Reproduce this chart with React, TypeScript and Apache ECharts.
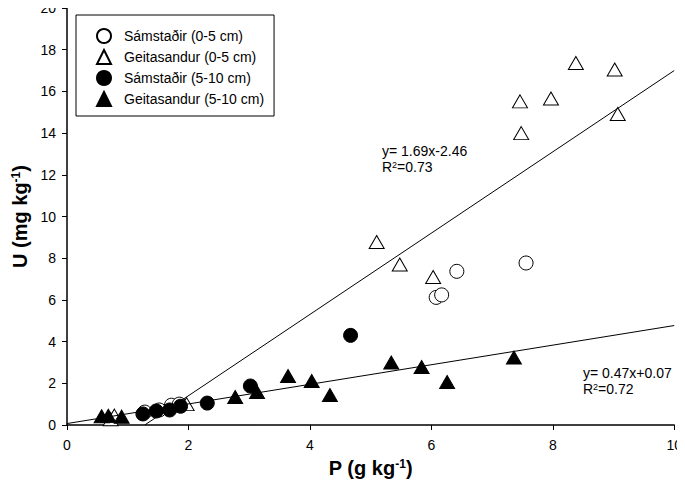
import React, { useEffect, useRef } from "react";
import * as echarts from "echarts";

const samOpen: [number, number][] = [
  [1.28, 0.62], [1.52, 0.72], [1.72, 0.95], [1.85, 1.0],
  [6.08, 6.12], [6.17, 6.24], [6.42, 7.37], [7.56, 7.77],
];
const geitOpen: [number, number][] = [
  [0.72, 0.28], [0.78, 0.45], [1.97, 1.0],
  [5.1, 8.78], [5.48, 7.7], [6.03, 7.1],
  [7.46, 15.52], [7.48, 14.0], [7.97, 15.66], [8.38, 17.36], [9.02, 17.05], [9.07, 14.92],
];
const samFilled: [number, number][] = [
  [1.25, 0.53], [1.47, 0.67], [1.69, 0.72], [1.87, 0.9], [2.31, 1.05],
  [3.02, 1.87], [4.67, 4.3],
];
const geitFilled: [number, number][] = [
  [0.57, 0.42], [0.68, 0.44], [0.9, 0.4],
  [2.77, 1.34], [3.13, 1.58], [3.64, 2.35], [4.03, 2.11], [4.33, 1.44],
  [5.34, 3.0], [5.84, 2.78], [6.26, 2.06], [7.36, 3.24],
];
const upperLine: [number, number][] = [[1.28, 0], [10, 17.0]];
const lowerLine: [number, number][] = [[0, 0.07], [10, 4.77]];

const names = [
  "Sámstaðir (0-5 cm)",
  "Geitasandur (0-5 cm)",
  "Sámstaðir (5-10 cm)",
  "Geitasandur (5-10 cm)",
];
const xTicks = { min: 0, max: 10, interval: 2 };
const yTicks = { min: 0, max: 20, interval: 2 };

const FONT = "'Liberation Sans', Arial, sans-serif";

export default function App() {
  const ref = useRef<HTMLDivElement>(null);
  useEffect(() => {
    if (!ref.current) return;
    const chart = echarts.init(ref.current, undefined, { renderer: "svg" });
    const openStyle = { color: "#fff", borderColor: "#000", borderWidth: 1, opacity: 1 };
    const fillStyle = { color: "#000", borderColor: "#000", borderWidth: 1, opacity: 1 };
    const sup = { fontSize: 12, fontWeight: "bold", verticalAlign: "top", lineHeight: 12, fontFamily: FONT, color: "#000" };
    const rsup = { fontSize: 9, verticalAlign: "top", lineHeight: 9, fontFamily: FONT };
    chart.setOption({
      animation: false,
      backgroundColor: "#fff",
      textStyle: { fontFamily: FONT },
      grid: { left: 67, right: 8, top: 8, bottom: 67, containLabel: false },
      legend: {
        orient: "vertical",
        left: 76,
        top: 15,
        borderColor: "#000",
        borderWidth: 1,
        padding: [13, 10, 9, 20],
        itemGap: 5,
        itemWidth: 14,
        itemHeight: 14,
        textStyle: { fontSize: 14, lineHeight: 14, color: "#000", fontFamily: FONT, padding: [0, 0, 0, 8] },
        data: [
          { name: names[0], icon: "circle" },
          { name: names[1], icon: "triangle" },
          { name: names[2], icon: "circle" },
          { name: names[3], icon: "triangle" },
        ],
      },
      xAxis: {
        type: "value",
        ...xTicks,
        splitLine: { show: false },
        axisLine: { lineStyle: { color: "#000", width: 1.5 } },
        axisTick: { inside: false, length: 5, lineStyle: { color: "#000" } },
        axisLabel: { color: "#000", fontSize: 14, margin: 13, fontFamily: FONT },
        name: "P (g kg{s|-1})",
        nameLocation: "middle",
        nameGap: 33,
        nameTextStyle: { fontSize: 20, fontWeight: "bold", color: "#000", fontFamily: FONT, rich: { s: sup } },
      },
      yAxis: {
        type: "value",
        ...yTicks,
        splitLine: { show: false },
        axisLine: { lineStyle: { color: "#000", width: 1.5 } },
        axisTick: { inside: false, length: 5, lineStyle: { color: "#000" } },
        axisLabel: { color: "#000", fontSize: 14, margin: 11, fontFamily: FONT },
        name: "U (mg kg{s|-1})",
        nameLocation: "middle",
        nameGap: 36,
        nameRotate: 90,
        nameTextStyle: { fontSize: 20, fontWeight: "bold", color: "#000", fontFamily: FONT, rich: { s: sup } },
      },
      series: [
        { name: names[0], type: "scatter", symbol: "circle", symbolSize: 14, itemStyle: openStyle, data: samOpen, z: 2 },
        { name: names[1], type: "scatter", symbol: "triangle", symbolSize: [15, 13], itemStyle: openStyle, data: geitOpen, z: 2 },
        { name: names[2], type: "scatter", symbol: "circle", symbolSize: 14, itemStyle: fillStyle, data: samFilled, z: 3 },
        { name: names[3], type: "scatter", symbol: "triangle", symbolSize: [15, 13], itemStyle: fillStyle, data: geitFilled, z: 3 },
        { type: "line", data: upperLine, symbol: "none", lineStyle: { color: "#000", width: 1 }, z: 4, silent: true },
        { type: "line", data: lowerLine, symbol: "none", lineStyle: { color: "#000", width: 1 }, z: 4, silent: true },
      ],
      graphic: [
        { type: "text", left: 382, top: 144, style: { text: "y= 1.69x-2.46", font: `14px ${FONT}`, fill: "#000" } },
        { type: "text", left: 382, top: 160, style: { text: "R{s|2}=0.73", font: `14px ${FONT}`, fill: "#000", rich: { s: rsup } } },
        { type: "text", left: 583, top: 366, style: { text: "y= 0.47x+0.07", font: `14px ${FONT}`, fill: "#000" } },
        { type: "text", left: 583, top: 382, style: { text: "R{s|2}=0.72", font: `14px ${FONT}`, fill: "#000", rich: { s: rsup } } },
      ],
    });
    return () => chart.dispose();
  }, []);
  return <div ref={ref} style={{ width: 685, height: 492, margin: -8 }} />;
}
